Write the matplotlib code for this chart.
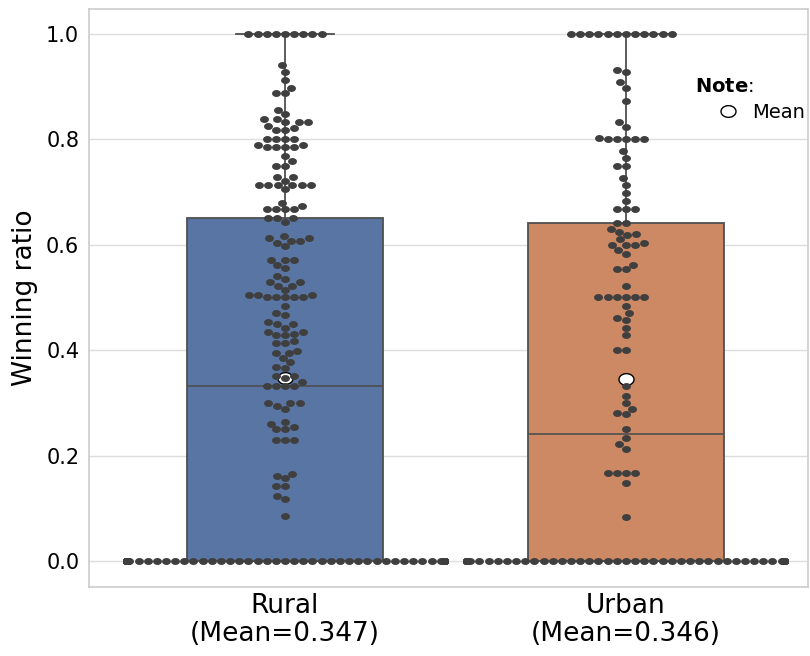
import numpy as np
import matplotlib
matplotlib.use("Agg")
import matplotlib.pyplot as plt
from matplotlib.path import Path
from matplotlib.lines import Line2D

# 数据: 每组的 0 值个数, 1.0 值个数, 以及中间的取值
groups = ["Rural", "Urban"]

rural_zeros = 92
rural_ones = 9
rural_mid = [
    0.940, 0.927, 0.912, 0.898, 0.888, 0.888, 0.856, 0.848, 0.838, 0.838,
    0.833, 0.833, 0.833, 0.826, 0.822, 0.818, 0.818, 0.800, 0.800, 0.800,
    0.800, 0.790, 0.790, 0.785, 0.785, 0.785, 0.785, 0.768, 0.759, 0.750,
    0.750, 0.728, 0.728, 0.721, 0.713, 0.713, 0.713, 0.713, 0.713, 0.713,
    0.705, 0.680, 0.674, 0.667, 0.667, 0.667, 0.667, 0.650, 0.650, 0.650,
    0.644, 0.617, 0.612, 0.612, 0.608, 0.608, 0.604, 0.598, 0.572, 0.571,
    0.571, 0.562, 0.555, 0.540, 0.535, 0.529, 0.529, 0.522, 0.522, 0.514,
    0.505, 0.505, 0.505, 0.500, 0.500, 0.500, 0.500, 0.500, 0.484, 0.470,
    0.466, 0.454, 0.450, 0.450, 0.443, 0.435, 0.435, 0.431, 0.428, 0.428,
    0.417, 0.413, 0.413, 0.399, 0.395, 0.395, 0.385, 0.378, 0.369, 0.367,
    0.351, 0.351, 0.347, 0.340, 0.333, 0.333, 0.333, 0.333, 0.300, 0.300,
    0.300, 0.294, 0.289, 0.264, 0.261, 0.255, 0.250, 0.250, 0.230, 0.230,
    0.230, 0.165, 0.162, 0.157, 0.143, 0.143, 0.124, 0.117, 0.086,
]

urban_zeros = 65
urban_ones = 12
urban_mid = [
    0.932, 0.927, 0.908, 0.898, 0.873, 0.832, 0.824, 0.803, 0.800, 0.800,
    0.800, 0.800, 0.800, 0.777, 0.764, 0.750, 0.750, 0.726, 0.713, 0.699,
    0.683, 0.667, 0.667, 0.667, 0.642, 0.642, 0.630, 0.624, 0.620, 0.618,
    0.610, 0.603, 0.600, 0.600, 0.600, 0.590, 0.583, 0.562, 0.554, 0.554,
    0.521, 0.500, 0.500, 0.500, 0.500, 0.500, 0.500, 0.483, 0.470, 0.462,
    0.457, 0.443, 0.428, 0.400, 0.400, 0.333, 0.314, 0.299, 0.289, 0.281,
    0.279, 0.250, 0.233, 0.222, 0.213, 0.167, 0.167, 0.167, 0.167, 0.149,
    0.083,
]

box_colors = ["#5975a4", "#cc8963"]
line_color = "#4f4f4f"
dot_color = "#3f3f3f"


def build(zeros, mid, ones):
    return np.concatenate([np.zeros(zeros), np.array(mid), np.ones(ones)])


# 蜂群图: 按 y 排序, 依次找离中心最近且不重叠的位置
def beeswarm(ys, d):
    order = np.argsort(ys, kind="stable")
    xs = np.zeros(len(ys))
    done_x, done_y = [], []
    for i in order:
        y = ys[i]
        nx = np.array(done_x)
        ny = np.array(done_y)
        if len(ny):
            m = np.abs(ny - y) < d
            nx, ny = nx[m], ny[m]
        dx = np.sqrt(np.maximum(d ** 2 - (ny - y) ** 2, 0))
        cands = np.concatenate([[0.0], nx - dx, nx + dx])
        cands = cands[np.argsort(np.abs(cands), kind="stable")]
        c = 0.0
        for c in cands:
            if np.all((nx - c) ** 2 + (ny - y) ** 2 >= d ** 2 - 1e-6):
                break
        xs[i] = c
        done_x.append(c)
        done_y.append(y)
    return xs


data = [build(rural_zeros, rural_mid, rural_ones),
        build(urban_zeros, urban_mid, urban_ones)]
means = [v.mean() for v in data]

dpi = 100
fig = plt.figure(figsize=(8.1, 6.56), dpi=dpi)
W, H = 810, 656
ax = fig.add_axes([89 / W, 1 - 587 / H, (808 - 89) / W, (587 - 9) / H])
ax.set_xlim(-0.575, 1.534)
ax.set_ylim(-0.049, 1.047)

# 箱线图
bp = ax.boxplot(data, positions=[0, 1], widths=0.575, patch_artist=True,
                whis=1.5, showfliers=False,
                boxprops=dict(edgecolor=line_color, linewidth=1.3),
                whiskerprops=dict(color=line_color, linewidth=1.3),
                capprops=dict(color=line_color, linewidth=1.3),
                medianprops=dict(color=line_color, linewidth=1.2))
for patch, col in zip(bp["boxes"], box_colors):
    patch.set_facecolor(col)
    patch.set_zorder(2)

# 椭圆形的点 (原图横向被拉伸)
t = np.linspace(0, 2 * np.pi, 64)
ellipse = Path(np.column_stack([np.cos(t), 0.78 * np.sin(t)]), closed=True)

# 均值
ax.plot([0, 1], means, ls="", marker=ellipse, ms=10.8, mfc="white",
        mec="black", mew=1.0, zorder=3)

dot_ms = 6.4
dot_w = dot_ms * dpi / 72
dot_h = dot_w * 0.78
gutter = 0.465
for i, vals in enumerate(data):
    pts = ax.transData.transform(np.column_stack([np.full(len(vals), i), vals]))
    cx = pts[0, 0]
    gut_px = ax.transData.transform([[i + gutter, 0]])[0, 0] - cx
    offs = beeswarm(pts[:, 1] * dot_w / dot_h, dot_w * 1.03)
    offs = np.clip(offs, -gut_px, gut_px)
    xd = ax.transData.inverted().transform(
        np.column_stack([cx + offs, pts[:, 1]]))[:, 0]
    ax.plot(xd, vals, ls="", marker=ellipse, ms=dot_ms, mfc=dot_color,
            mec=dot_color, mew=0, zorder=4)

# 坐标轴样式
ax.yaxis.grid(True, color="#dddddd", linewidth=1.0)
ax.set_axisbelow(True)
for s in ax.spines.values():
    s.set_color("#cccccc")
    s.set_linewidth(1.2)
ax.set_yticks([0.0, 0.2, 0.4, 0.6, 0.8, 1.0])
ax.set_yticklabels(["0.0", "0.2", "0.4", "0.6", "0.8", "1.0"])
ax.tick_params(axis="y", length=0, labelsize=15, pad=7)
ax.set_xticks([0, 1])
ax.set_xticklabels([f"{g}\n(Mean={m:.3f})" for g, m in zip(groups, means)],
                   fontsize=19, linespacing=1.1)
ax.tick_params(axis="x", length=0, pad=4)
ax.set_ylabel("Winning ratio", fontsize=19)
ax.yaxis.set_label_coords(-0.071, 0.5)

# 图例
fig.text(695 / W, 1 - 87 / H, r"$\mathbf{Note}$:", fontsize=14, va="center")
handle = Line2D([], [], ls="", marker=ellipse, ms=10.8, mfc="white",
                mec="black", mew=1.0)
fig.legend([handle], ["Mean"], loc="center left",
           bbox_to_anchor=(716 / W, 1 - 112 / H), frameon=False,
           fontsize=14, handlelength=1.2, handletextpad=0.65,
           borderpad=0, borderaxespad=0)

fig.savefig("out.png", dpi=dpi)
